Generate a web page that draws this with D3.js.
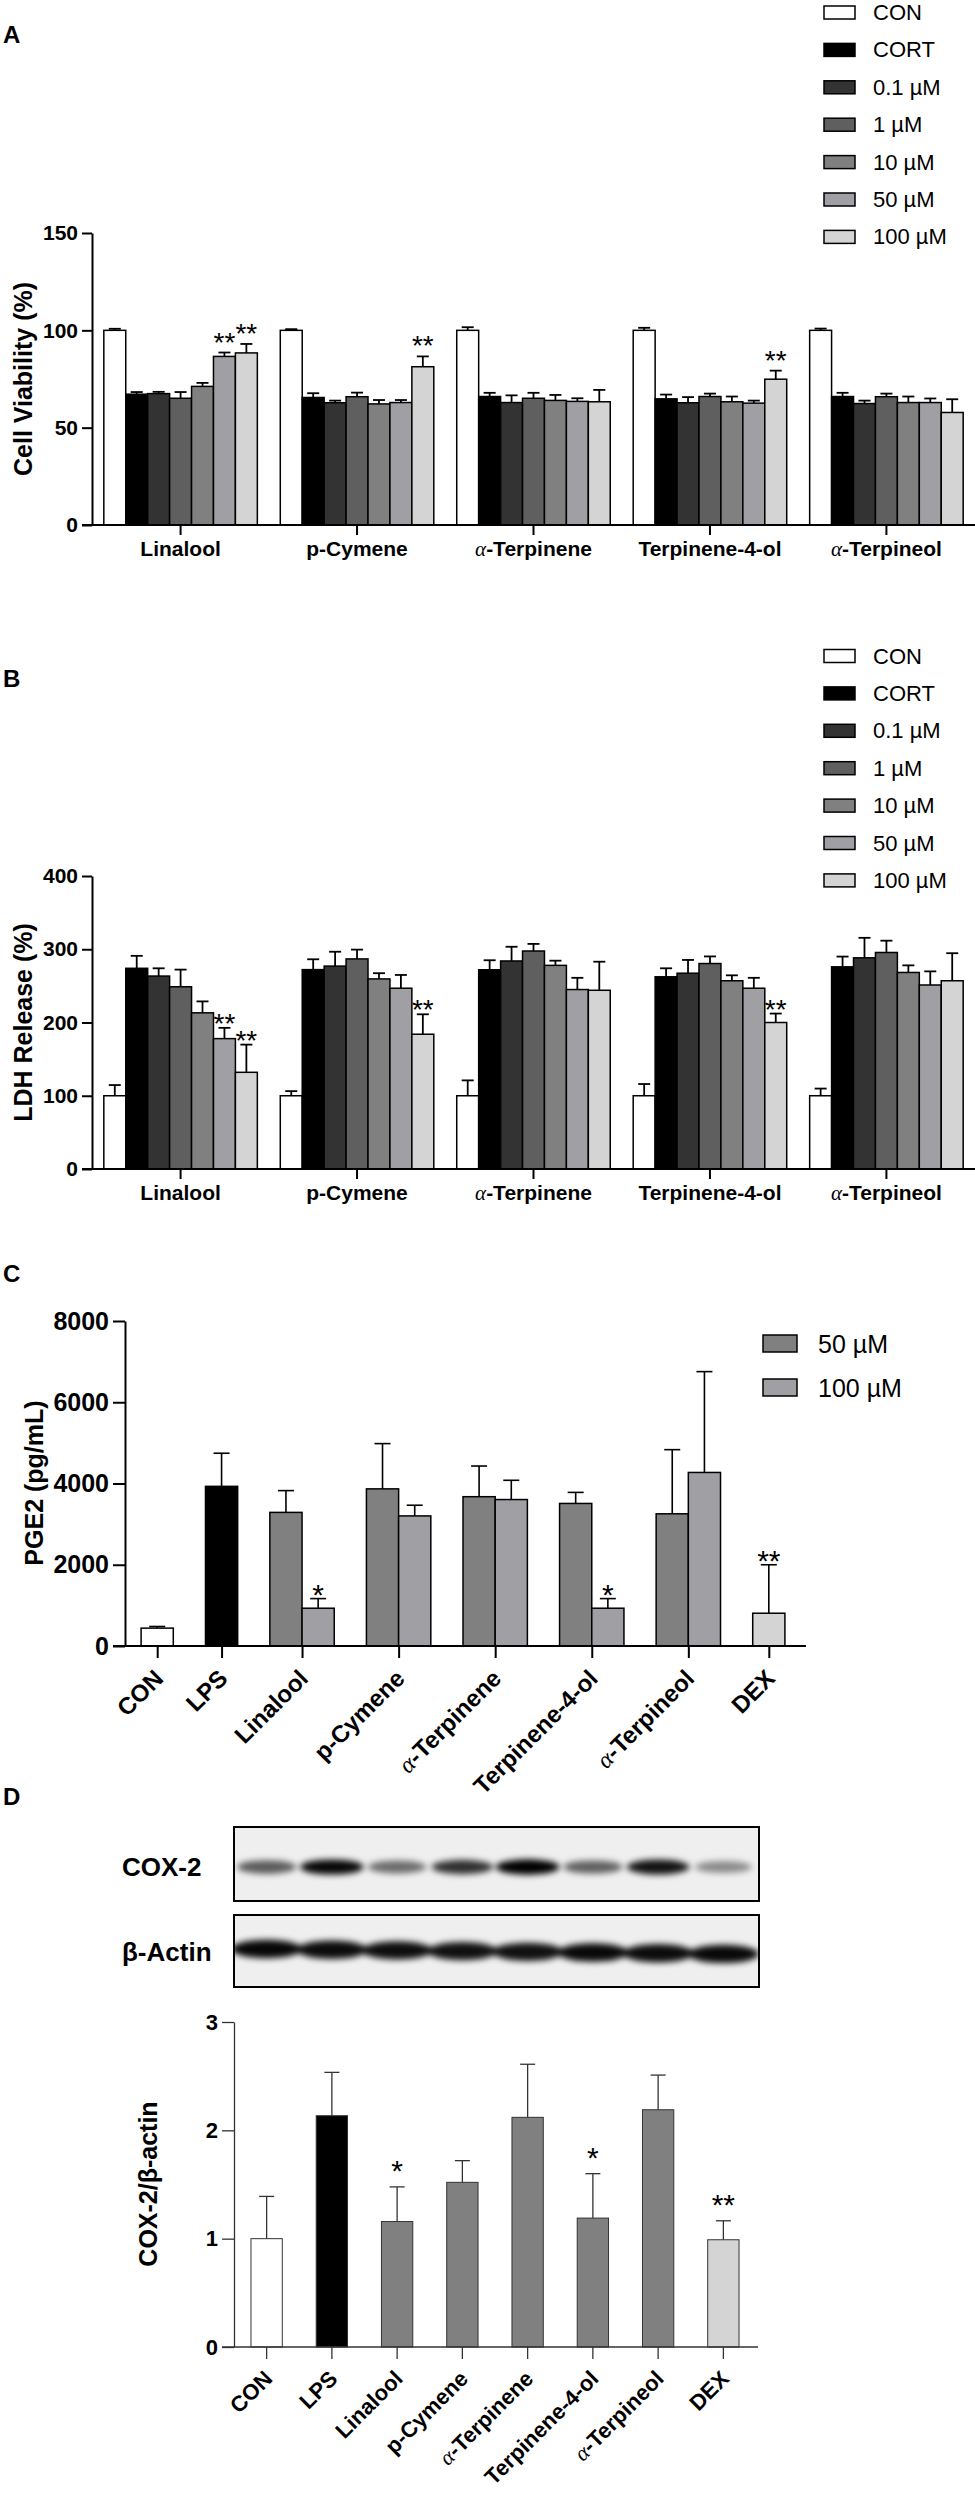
<!DOCTYPE html>
<html>
<head>
<meta charset="utf-8">
<script src="https://cdn.jsdelivr.net/npm/d3@7"></script>
<style>
  body { margin: 0; background: #fff; }
</style>
</head>
<body>
<script>
// ---- data ----
const compounds = ['Linalool', 'p-Cymene', 'α-Terpinene', 'Terpinene-4-ol', 'α-Terpineol'];
const groupsAB = ['CON', 'CORT', '0.1 µM', '1 µM', '10 µM', '50 µM', '100 µM'];

// A: cell viability (%), one row per compound, one value per group
const viabMean = [
  [100, 67.2, 67.5, 65.1, 71.2, 86.6, 88.4],
  [100, 65.5, 62.8, 65.9, 62.2, 62.9, 81.3],
  [100, 66.0, 62.9, 65.1, 64.0, 63.5, 63.3],
  [100, 64.8, 62.8, 66.0, 63.3, 62.6, 74.9],
  [100, 66.0, 62.4, 65.9, 62.9, 62.9, 57.8]
];
const viabErr = [
  [0.8, 1.1, 0.9, 3.2, 1.8, 2.0, 4.6],
  [0.6, 2.2, 1.1, 2.1, 2.0, 1.3, 5.3],
  [1.6, 1.9, 3.7, 2.8, 2.8, 1.6, 6.1],
  [1.3, 2.2, 2.9, 1.5, 2.7, 1.3, 4.4],
  [0.9, 1.9, 1.5, 1.6, 3.1, 2.1, 6.8]
];
const viabSig = [
  ['', '', '', '', '', '**', '**'],
  ['', '', '', '', '', '', '**'],
  ['', '', '', '', '', '', ''],
  ['', '', '', '', '', '', '**'],
  ['', '', '', '', '', '', '']
];

// B: LDH release (%)
const ldhMean = [
  [100, 274.0, 263.4, 248.8, 213.2, 178.0, 132.0],
  [100, 272.2, 277.0, 286.8, 259.5, 246.8, 184.0],
  [100, 272.0, 284.0, 297.6, 278.0, 245.0, 244.0],
  [100, 262.4, 267.3, 280.5, 257.0, 246.8, 200.0],
  [100, 276.0, 288.3, 295.6, 268.3, 251.2, 257.0]
];
const ldhErr = [
  [14.6, 17.0, 10.6, 23.4, 15.6, 14.7, 37.8],
  [6.3, 14.1, 19.6, 12.7, 7.8, 18.1, 27.2],
  [21.0, 13.0, 19.4, 9.7, 6.4, 16.0, 39.0],
  [16.0, 11.6, 18.1, 9.7, 7.4, 14.2, 12.2],
  [9.8, 14.0, 27.3, 16.1, 9.7, 18.6, 37.6]
];
const ldhSig = [
  ['', '', '', '', '', '**', '**'],
  ['', '', '', '', '', '', '**'],
  ['', '', '', '', '', '', ''],
  ['', '', '', '', '', '', '**'],
  ['', '', '', '', '', '', '']
];

// C: PGE2 (pg/mL)
const cdCats = ['CON', 'LPS', 'Linalool', 'p-Cymene', 'α-Terpinene', 'Terpinene-4-ol', 'α-Terpineol', 'DEX'];
const pgeSingleCats = ['CON', 'LPS', 'DEX'];
const pgeSingleMean = [440, 3930, 807];
const pgeSingleErr = [40, 815, 1193];
const pgeSingleSig = ['', '', '**'];
const doses = ['50 µM', '100 µM'];
const pge50Mean = [3289, 3868, 3675, 3509, 3254];
const pge50Err = [536, 1114, 755, 272, 1579];
const pge100Mean = [930, 3202, 3605, 930, 4272];
const pge100Err = [237, 263, 474, 237, 2482];
const pge100Sig = ['*', '', '', '*', ''];

// D: COX-2 / β-actin
const coxMean = [1.0, 2.135, 1.158, 1.52, 2.12, 1.19, 2.19, 0.99];
const coxErr = [0.39, 0.40, 0.32, 0.20, 0.49, 0.41, 0.32, 0.175];
const coxSig = ['', '', '*', '', '', '*', '', '**'];
// western blot band darkness per lane
const coxBand = [0.62, 0.97, 0.55, 0.8, 1.0, 0.6, 0.92, 0.42];
const actinBand = [0.97, 0.95, 0.94, 0.93, 0.93, 0.96, 0.95, 0.96];

// ---- styles ----
const FONT = '"Liberation Sans", Arial, Helvetica, sans-serif';
const SERIF = '"Liberation Serif", "DejaVu Serif", serif';
const colorAB = d3.scaleOrdinal().domain(groupsAB)
  .range(['#ffffff', '#000000', '#333333', '#5f5f5f', '#808080', '#a0a0a4', '#d4d4d4']);
const colorCD = { CON: '#ffffff', LPS: '#000000', DEX: '#d4d4d4', '50 µM': '#808080', '100 µM': '#a0a0a4' };

const svg = d3.select('body').append('svg')
  .attr('width', 975).attr('height', 2500)
  .attr('font-family', FONT);

function setLabel(sel, s) {
  sel.text(null);
  if (s.startsWith('α')) {
    sel.append('tspan').attr('font-family', SERIF).attr('font-style', 'italic')
      .attr('font-weight', 'normal').text('α');
    sel.append('tspan').text(s.slice(1));
  } else {
    sel.text(s);
  }
}

function styleAxis(g, o) {
  g.attr('font-family', FONT).attr('font-size', o.font).attr('font-weight', 'bold');
  g.selectAll('path, line').attr('stroke', o.color).attr('stroke-width', o.sw);
  g.selectAll('text').attr('fill', '#000');
}

function drawYAxis(y, x0, ticks, o) {
  const g = svg.append('g').attr('transform', `translate(${x0},0)`)
    .call(d3.axisLeft(y).tickValues(ticks).tickFormat(d3.format('d'))
      .tickSize(o.tick).tickSizeOuter(0).tickPadding(4));
  styleAxis(g, o);
}

function drawXAxis(x, y0, axisX, xEnd, o, tickVals, fmt) {
  const ax = d3.axisBottom(x).tickSize(o.tick).tickSizeOuter(0).tickPadding(o.pad);
  if (tickVals) ax.tickValues(tickVals);
  if (fmt) ax.tickFormat(fmt);
  const g = svg.append('g').attr('transform', `translate(0,${y0})`).call(ax);
  g.select('.domain').remove();
  g.append('line').attr('x1', axisX - o.tick).attr('x2', xEnd).attr('y1', 0).attr('y2', 0);
  styleAxis(g, o);
  const texts = g.selectAll('.tick text');
  if (o.rotate) {
    texts.attr('text-anchor', 'end').attr('x', 0).attr('y', 0).attr('dy', null)
      .attr('transform', `translate(7,${o.rotate}) rotate(-45)`);
  }
  texts.each(function () { setLabel(d3.select(this), d3.select(this).text()); });
}

function yTitle(text, cx, cy, size) {
  const t = svg.append('text')
    .attr('transform', `translate(${cx},${cy}) rotate(-90)`)
    .attr('text-anchor', 'middle').attr('dominant-baseline', 'central')
    .attr('font-size', size).attr('font-weight', 'bold');
  setLabel(t, text);
}

function panelLetter(letter, y) {
  svg.append('text').attr('x', 3).attr('y', y).attr('font-size', 24)
    .attr('font-weight', 'bold').text(letter);
}

function errorBars(g, data, o) {
  // data: {x, top, cap, sig}
  g.selectAll(null).data(data).enter().append('line')
    .attr('x1', d => d.x).attr('x2', d => d.x)
    .attr('y1', d => d.top).attr('y2', d => d.cap)
    .attr('stroke', o.color).attr('stroke-width', o.sw);
  g.selectAll(null).data(data).enter().append('line')
    .attr('x1', d => d.x - o.capW / 2).attr('x2', d => d.x + o.capW / 2)
    .attr('y1', d => d.cap).attr('y2', d => d.cap)
    .attr('stroke', o.color).attr('stroke-width', o.sw);
  g.selectAll(null).data(data.filter(d => d.sig)).enter().append('text')
    .attr('x', d => d.x).attr('y', d => d.cap + o.starDy)
    .attr('text-anchor', 'middle').attr('font-size', o.starSize).text(d => d.sig);
}

// ---- panels A and B ----
function groupedPanel(p) {
  const axisX = 92;
  const y = d3.scaleLinear().domain(p.yDomain).range(p.yRange);
  const x0 = d3.scaleBand().domain(compounds).range([axisX, 975])
    .paddingInner(0.13).paddingOuter(0.067);
  const x1 = d3.scaleBand().domain(groupsAB).range([0, x0.bandwidth()]);

  const rows = [];
  compounds.forEach((c, i) => groupsAB.forEach((s, j) => {
    rows.push({ c, s, v: p.mean[i][j], e: p.err[i][j], sig: p.sig[i][j] });
  }));

  const g = svg.append('g');
  g.selectAll('rect').data(rows).enter().append('rect')
    .attr('x', d => x0(d.c) + x1(d.s))
    .attr('y', d => y(d.v))
    .attr('width', x1.bandwidth())
    .attr('height', d => y(0) - y(d.v))
    .attr('fill', d => colorAB(d.s))
    .attr('stroke', '#000').attr('stroke-width', 1.5);

  errorBars(g, rows.map(d => ({
    x: x0(d.c) + x1(d.s) + x1.bandwidth() / 2,
    top: y(d.v), cap: y(d.v + d.e), sig: d.sig
  })), { color: '#000', sw: 1.8, capW: 12, starDy: p.starDy, starSize: 28 });

  const ao = { tick: 10, pad: 6, font: 21, color: '#000', sw: 2 };
  drawYAxis(y, axisX, p.ticks, ao);
  drawXAxis(x0, y(0), axisX, 975, ao);
  yTitle(p.title, 23, (p.yRange[0] + p.yRange[1]) / 2, 25);
  panelLetter(p.letter, p.letterY);

  // legend
  const lg = svg.append('g').selectAll('g').data(groupsAB).enter().append('g')
    .attr('transform', (d, i) => `translate(824,${p.legendTop + i * 37.4})`);
  lg.append('rect').attr('x', 0).attr('y', -6.5).attr('width', 31).attr('height', 13)
    .attr('fill', d => colorAB(d)).attr('stroke', '#000').attr('stroke-width', 1.5);
  lg.append('text').attr('x', 49).attr('y', 7.5).attr('font-size', 22).text(d => d);
}

groupedPanel({
  mean: viabMean, err: viabErr, sig: viabSig,
  yDomain: [0, 150], yRange: [525, 233], ticks: [0, 50, 100, 150],
  title: 'Cell Viability (%)', letter: 'A', letterY: 43, legendTop: 12.5, starDy: -1
});
groupedPanel({
  mean: ldhMean, err: ldhErr, sig: ldhSig,
  yDomain: [0, 400], yRange: [1169, 876], ticks: [0, 100, 200, 300, 400],
  title: 'LDH Release (%)', letter: 'B', letterY: 687, legendTop: 656, starDy: 5
});

// ---- panel C ----
(function () {
  const axisX = 125;
  const y = d3.scaleLinear().domain([0, 8000]).range([1646, 1321]);
  const x = d3.scaleLinear().domain([0, 21]).range([axisX, 801]);

  // lay bars out in bar-width units: one gap unit between groups
  const bars = [];
  const centers = [];
  let cum = 0.5;
  cdCats.forEach(cat => {
    const si = pgeSingleCats.indexOf(cat);
    const ci = compounds.indexOf(cat);
    const items = si >= 0
      ? [{ v: pgeSingleMean[si], e: pgeSingleErr[si], sig: pgeSingleSig[si], fill: colorCD[cat] }]
      : [{ v: pge50Mean[ci], e: pge50Err[ci], sig: '', fill: colorCD[doses[0]] },
         { v: pge100Mean[ci], e: pge100Err[ci], sig: pge100Sig[ci], fill: colorCD[doses[1]] }];
    items.forEach((b, k) => bars.push(Object.assign({ u: cum + k }, b)));
    centers.push(cum + items.length / 2);
    cum += items.length + 1;
  });

  const bw = x(1) - x(0);
  const g = svg.append('g');
  g.selectAll('rect').data(bars).enter().append('rect')
    .attr('x', d => x(d.u)).attr('y', d => y(d.v))
    .attr('width', bw).attr('height', d => y(0) - y(d.v))
    .attr('fill', d => d.fill).attr('stroke', '#000').attr('stroke-width', 1.5);
  errorBars(g, bars.map(d => ({ x: x(d.u) + bw / 2, top: y(d.v), cap: y(d.v + d.e), sig: d.sig })),
    { color: '#000', sw: 1.6, capW: 16, starDy: 6, starSize: 30 });

  const ao = { tick: 12, pad: 4, font: 25, color: '#000', sw: 2, rotate: 34 };
  drawYAxis(y, axisX, [0, 2000, 4000, 6000, 8000], ao);
  drawXAxis(x, y(0), axisX, x(21) + 5, Object.assign({}, ao, { font: 24 }),
    centers, (d, i) => cdCats[i]);
  yTitle('PGE2 (pg/mL)', 34, 1483, 25);
  panelLetter('C', 1282);

  const lg = svg.append('g').selectAll('g').data(doses).enter().append('g')
    .attr('transform', (d, i) => `translate(763,${1343.5 + i * 44})`);
  lg.append('rect').attr('x', 0).attr('y', -8.5).attr('width', 34).attr('height', 17)
    .attr('fill', d => colorCD[d]).attr('stroke', '#000').attr('stroke-width', 1.5);
  lg.append('text').attr('x', 55).attr('y', 9.5).attr('font-size', 25).text(d => d);
})();

// ---- panel D ----
(function () {
  const axisX = 234;
  const y = d3.scaleLinear().domain([0, 3]).range([2347, 2022]);
  const x = d3.scaleBand().domain(cdCats).range([axisX, 756])
    .paddingInner(0.52).paddingOuter(0.26);
  const fillD = c => colorCD[c] || colorCD[doses[0]];

  // western blot strips
  const defs = svg.append('defs');
  defs.append('filter').attr('id', 'band').attr('x', '-50%').attr('y', '-100%')
    .attr('width', '200%').attr('height', '300%')
    .append('feGaussianBlur').attr('stdDeviation', 3.2);
  const blots = [
    { name: 'COX-2', y0: 1827, y1: 1901, cy: 1867, vals: coxBand, rx: 26, ry: 7, labelY: 1876 },
    { name: 'β-Actin', y0: 1915, y1: 1987, cy: 1949, vals: actinBand, rx: 30, ry: 8.5, labelY: 1961 }
  ];
  blots.forEach((b, bi) => {
    defs.append('clipPath').attr('id', 'clip' + bi).append('rect')
      .attr('x', axisX).attr('y', b.y0).attr('width', 759 - axisX).attr('height', b.y1 - b.y0);
    const bg = svg.append('g');
    bg.append('rect').attr('x', axisX).attr('y', b.y0).attr('width', 759 - axisX)
      .attr('height', b.y1 - b.y0).attr('fill', '#efefef');
    bg.append('g').attr('clip-path', `url(#clip${bi})`).attr('filter', 'url(#band)')
      .selectAll('ellipse').data(b.vals).enter().append('ellipse')
      .attr('cx', (d, i) => x(cdCats[i]) + x.bandwidth() / 2)
      .attr('cy', (d, i) => b.cy + (bi === 1 ? i * 0.7 : 0))
      .attr('rx', d => b.rx + 6 * d).attr('ry', d => b.ry * (0.7 + 0.4 * d))
      .attr('fill', '#000').attr('fill-opacity', d => d);
    bg.append('rect').attr('x', axisX).attr('y', b.y0).attr('width', 759 - axisX)
      .attr('height', b.y1 - b.y0).attr('fill', 'none').attr('stroke', '#000').attr('stroke-width', 2);
    const t = svg.append('text').attr('x', 122).attr('y', b.labelY)
      .attr('font-size', 26).attr('font-weight', 'bold');
    setLabel(t, b.name);
  });

  const rows = cdCats.map((c, i) => ({ c, v: coxMean[i], e: coxErr[i], sig: coxSig[i] }));
  const g = svg.append('g');
  g.selectAll('rect').data(rows).enter().append('rect')
    .attr('x', d => x(d.c)).attr('y', d => y(d.v))
    .attr('width', x.bandwidth()).attr('height', d => y(0) - y(d.v))
    .attr('fill', d => fillD(d.c)).attr('stroke', '#333').attr('stroke-width', 1);
  errorBars(g, rows.map(d => ({ x: x(d.c) + x.bandwidth() / 2, top: y(d.v), cap: y(d.v + d.e), sig: d.sig })),
    { color: '#333', sw: 1.3, capW: 15, starDy: -6, starSize: 30 });

  const ao = { tick: 12, pad: 4, font: 22, color: '#333', sw: 1.3, rotate: 33 };
  drawYAxis(y, axisX, [0, 1, 2, 3], ao);
  drawXAxis(x, y(0), axisX, 758, ao);
  yTitle('COX-2/β-actin', 148, 2184, 25);
  panelLetter('D', 1805);
})();
</script>
</body>
</html>
